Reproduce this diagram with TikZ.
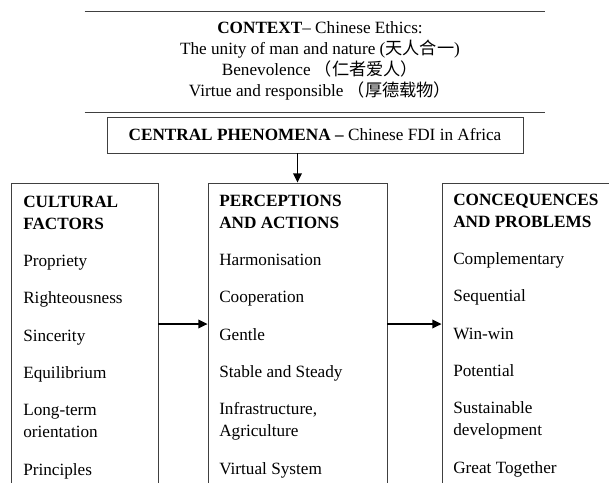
\documentclass[tikz,border=0pt]{standalone}
\usepackage{fontspec}
\setmainfont{Liberation Serif}
\newfontfamily\cjk{Noto Sans CJK SC}
\usetikzlibrary{positioning, arrows.meta}

\begin{document}
\begin{tikzpicture}[x=0.75pt, y=-0.75pt,
    block/.style={draw=black!75, line width=0.6pt, inner sep=0pt},
    column/.style={anchor=north west, align=left, inner sep=0pt, font=\fontsize{12.9}{16.5}\selectfont},
    link/.style={-{Triangle[length=7pt, width=6.5pt]}, line width=1.3pt}]
    \useasboundingbox (0,0) rectangle (609,482);
    \clip (0,0) rectangle (609,482);
    % context on top
    \node[inner sep=0pt, minimum width=345pt, minimum height=75pt] (context) at (315,62) {};
    \draw[black!75, line width=0.6pt] (context.north west) -- (context.north east);
    \draw[black!75, line width=0.6pt] (context.south west) -- (context.south east);
    \node[align=center, anchor=north, inner sep=0pt, font=\fontsize{12.9}{15.75}\selectfont] (ethics) at (320,21.5)
        {\textbf{CONTEXT}-- Chinese Ethics:\\
         The unity of man and nature ({\cjk 天人合一})\\
         Benevolence {\cjk （仁者爱人）}\\
         Virtue and responsible {\cjk （厚德载物）}};
    \node[block, minimum width=312pt, minimum height=27pt, font=\fontsize{12.9}{16.5}\selectfont] (central) at (315,135)
        {\textbf{CENTRAL PHENOMENA --} Chinese FDI in Africa};
    % the three columns
    \node[block, minimum width=110.25pt, minimum height=252.75pt] (factors) at (84.5,351.5) {};
    \node[block, minimum width=134.25pt, minimum height=252.75pt] (actions) at (297.5,351.5) {};
    \node[block, minimum width=148.5pt, minimum height=252.75pt] (problems) at (541,351.5) {};
    \node[column] (cultural) at (23,195.5)
        {\textbf{CULTURAL}\\ \textbf{FACTORS}\\[11.5pt]
         Propriety\\[11.5pt] Righteousness\\[11.5pt] Sincerity\\[11.5pt]
         Equilibrium\\[11.5pt] Long-term\\ orientation\\[11.5pt] Principles};
    \node[column] (perception) at (219,194.5)
        {\textbf{PERCEPTIONS}\\ \textbf{AND ACTIONS}\\[11.5pt]
         Harmonisation\\[11.5pt] Cooperation\\[11.5pt] Gentle\\[11.5pt]
         Stable and Steady\\[11.5pt] Infrastructure,\\ Agriculture\\[11.5pt] Virtual System};
    \node[column] (consequence) at (453,193.5)
        {\textbf{CONCEQUENCES}\\ \textbf{AND PROBLEMS}\\[11.5pt]
         Complementary\\[11.5pt] Sequential\\[11.5pt] Win-win\\[11.5pt]
         Potential\\[11.5pt] Sustainable\\ development\\[11.5pt] Great Together};
    \coordinate (level) at (0,324);
    \draw[link] (central.south -| actions.north) -- (actions.north);
    \draw[link] (factors.east |- level) -- (actions.west |- level);
    \draw[link] (actions.east |- level) -- (problems.west |- level);
\end{tikzpicture}
\end{document}
